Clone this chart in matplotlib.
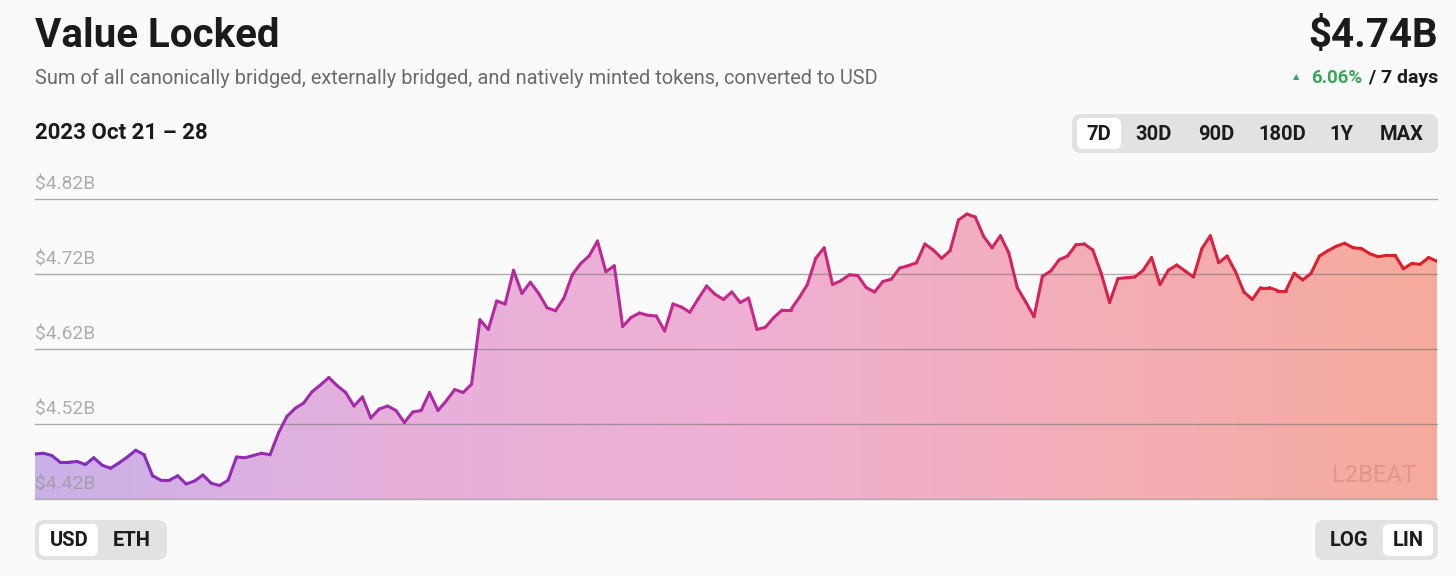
"""
Value locked over the last 7 days, L2BEAT-style card.
"""

import numpy as np
import matplotlib.pyplot as plt
from matplotlib.collections import LineCollection
from matplotlib.colors import LinearSegmentedColormap
from matplotlib.patches import FancyBboxPatch, Polygon

# hourly TVL, billions of USD (2023 Oct 21 - 28)
tvl = [
    4.480, 4.481, 4.478, 4.469, 4.469, 4.470, 4.466, 4.475, 4.465, 4.461,
    4.468, 4.476, 4.485, 4.479, 4.451, 4.445, 4.445, 4.451, 4.440, 4.444,
    4.452, 4.441, 4.438, 4.445, 4.476, 4.475, 4.478, 4.481, 4.479, 4.508,
    4.530, 4.541, 4.548, 4.563, 4.572, 4.582, 4.571, 4.562, 4.544, 4.556,
    4.528, 4.540, 4.544, 4.538, 4.522, 4.536, 4.538, 4.562, 4.538, 4.551,
    4.566, 4.562, 4.573, 4.659, 4.646, 4.684, 4.680, 4.725, 4.694, 4.709,
    4.694, 4.675, 4.671, 4.688, 4.719, 4.734, 4.744, 4.764, 4.723, 4.731,
    4.650, 4.662, 4.668, 4.665, 4.664, 4.644, 4.680, 4.676, 4.669, 4.687,
    4.704, 4.693, 4.686, 4.696, 4.682, 4.688, 4.646, 4.649, 4.662, 4.672,
    4.672, 4.688, 4.706, 4.741, 4.755, 4.706, 4.711, 4.719, 4.718, 4.702,
    4.696, 4.710, 4.713, 4.728, 4.731, 4.735, 4.760, 4.752, 4.741, 4.751,
    4.792, 4.800, 4.796, 4.770, 4.755, 4.771, 4.748, 4.702, 4.683, 4.663,
    4.717, 4.724, 4.739, 4.744, 4.759, 4.760, 4.752, 4.721, 4.682, 4.714,
    4.715, 4.716, 4.725, 4.742, 4.706, 4.725, 4.732, 4.724, 4.716, 4.754,
    4.771, 4.735, 4.744, 4.723, 4.696, 4.686, 4.702, 4.702, 4.698, 4.698,
    4.721, 4.712, 4.721, 4.744, 4.751, 4.757, 4.761, 4.755, 4.754, 4.747,
    4.743, 4.745, 4.745, 4.727, 4.734, 4.733, 4.742, 4.737,
]
y_ticks = [4.42, 4.52, 4.62, 4.72, 4.82]
y_tick_labels = ["$4.42B", "$4.52B", "$4.62B", "$4.72B", "$4.82B"]

title = "Value Locked"
subtitle = "Sum of all canonically bridged, externally bridged, and natively minted tokens, converted to USD"
date_range = "2023 Oct 21 \u2013 28"
current_value = "$4.74B"
change_pct = "6.06%"
change_period = " / 7 days"
range_buttons = ["7D", "30D", "90D", "180D", "1Y", "MAX"]
unit_buttons = ["USD", "ETH"]
scale_buttons = ["LOG", "LIN"]

BG = "#fafafa"
DARK = "#1b1b1b"
FONT = ["Roboto", "DejaVu Sans"]

fill_cmap = LinearSegmentedColormap.from_list("fill", ["#c9b1e8", "#e6b0dc", "#efb0d4", "#f3aeb8", "#f6aa9c"])
line_cmap = LinearSegmentedColormap.from_list("line", ["#7e2dbf", "#a92ba8", "#c42a8a", "#d62350", "#e01e22"])

fig = plt.figure(figsize=(14.56, 5.76), dpi=100, facecolor=BG)

# full-figure pixel canvas for header text and buttons
bg = fig.add_axes([0, 0, 1, 1], zorder=0)
bg.set_xlim(0, 1456)
bg.set_ylim(576, 0)
bg.axis("off")

bg.text(35, 36, title, fontsize=29, fontweight="bold", color=DARK, family=FONT, va="center", ha="left")
bg.text(35, 78, subtitle, fontsize=14.4, color="#6b6b6b", family=FONT, va="center", ha="left")
bg.text(35, 133, date_range, fontsize=16, fontweight="bold", color=DARK, family=FONT, va="center", ha="left")

bg.text(1438, 36, current_value, fontsize=29, fontweight="bold", color=DARK, family=FONT, va="center", ha="right")
bg.text(1438, 78, change_period, fontsize=14, fontweight="bold", color=DARK, family=FONT, va="center", ha="right")
bg.text(1362, 78, change_pct, fontsize=13.5, fontweight="bold", color="#3aa75a", family=FONT, va="center", ha="right")
bg.text(1296, 77, "\u25b2", fontsize=6, color="#3aa75a", family=FONT, va="center", ha="center")


def button_group(x0, x1, y0, y1, labels, centers, selected, sel_box):
    bg.add_patch(FancyBboxPatch((x0, y0), x1 - x0, y1 - y0,
                                boxstyle="round,pad=0,rounding_size=9",
                                fc="#e2e2e2", ec="none"))
    sx0, sx1 = sel_box
    bg.add_patch(FancyBboxPatch((sx0, y0 + 4), sx1 - sx0, y1 - y0 - 8,
                                boxstyle="round,pad=0,rounding_size=6",
                                fc="white", ec="none"))
    for lab, cx in zip(labels, centers):
        bg.text(cx, (y0 + y1) / 2 + 0.5, lab, fontsize=14.5, fontweight="bold",
                color=DARK, family=FONT, ha="center", va="center")


button_group(1072, 1438, 114, 153, range_buttons,
             [1099, 1154, 1216, 1282, 1341, 1402], "7D", (1077, 1121))
button_group(35, 167, 520, 560, unit_buttons, [69, 132], "USD", (39, 98))
button_group(1315, 1438, 520, 560, scale_buttons, [1349, 1408], "LIN", (1383, 1433))

# chart
ax = fig.add_axes([35 / 1456, 1 - 499 / 576, (1437 - 35) / 1456, 300 / 576], zorder=1)
ax.set_facecolor("none")
x = np.arange(len(tvl))
y = np.array(tvl)
ymin, ymax = y_ticks[0], y_ticks[-1]
ax.set_xlim(0, x[-1])
ax.set_ylim(ymin, ymax)
for s in ax.spines.values():
    s.set_visible(False)
ax.set_xticks([])
ax.set_yticks([])

# gradient area under the line
verts = np.vstack([[x[0], ymin], np.column_stack([x, y]), [x[-1], ymin]])
clip = Polygon(verts, closed=True, fc="none", ec="none", transform=ax.transData)
ax.add_patch(clip)
grad = np.linspace(0, 1, 512).reshape(1, -1)
im = ax.imshow(grad, aspect="auto", cmap=fill_cmap, extent=[x[0], x[-1], ymin, ymax],
               origin="lower", zorder=1, interpolation="bilinear")
im.set_clip_path(clip)

# gridlines over the fill
for v in y_ticks:
    ax.axhline(v, color="#6e6e6e", lw=1, alpha=0.55, zorder=2, clip_on=False)

# gradient line
pts = np.column_stack([x, y]).reshape(-1, 1, 2)
segs = np.concatenate([pts[:-1], pts[1:]], axis=1)
lc = LineCollection(segs, colors=line_cmap(np.linspace(0, 1, len(segs))), linewidths=2.2,
                    zorder=3, capstyle="round", joinstyle="round")
ax.add_collection(lc)

for v, lab in zip(y_ticks, y_tick_labels):
    ax.annotate(lab, xy=(0, v), xytext=(0, 4), textcoords="offset points",
                fontsize=13.9, color="#9a9a9a", alpha=0.8, family=FONT,
                ha="left", va="bottom", zorder=4)

# watermark
ax.text(0.985, 0.08, "L2BEAT", transform=ax.transAxes, fontsize=17, color="#c86a6a",
        alpha=0.35, family=FONT, ha="right", va="center", zorder=4)

fig.savefig("out.png", dpi=100, facecolor=BG)
